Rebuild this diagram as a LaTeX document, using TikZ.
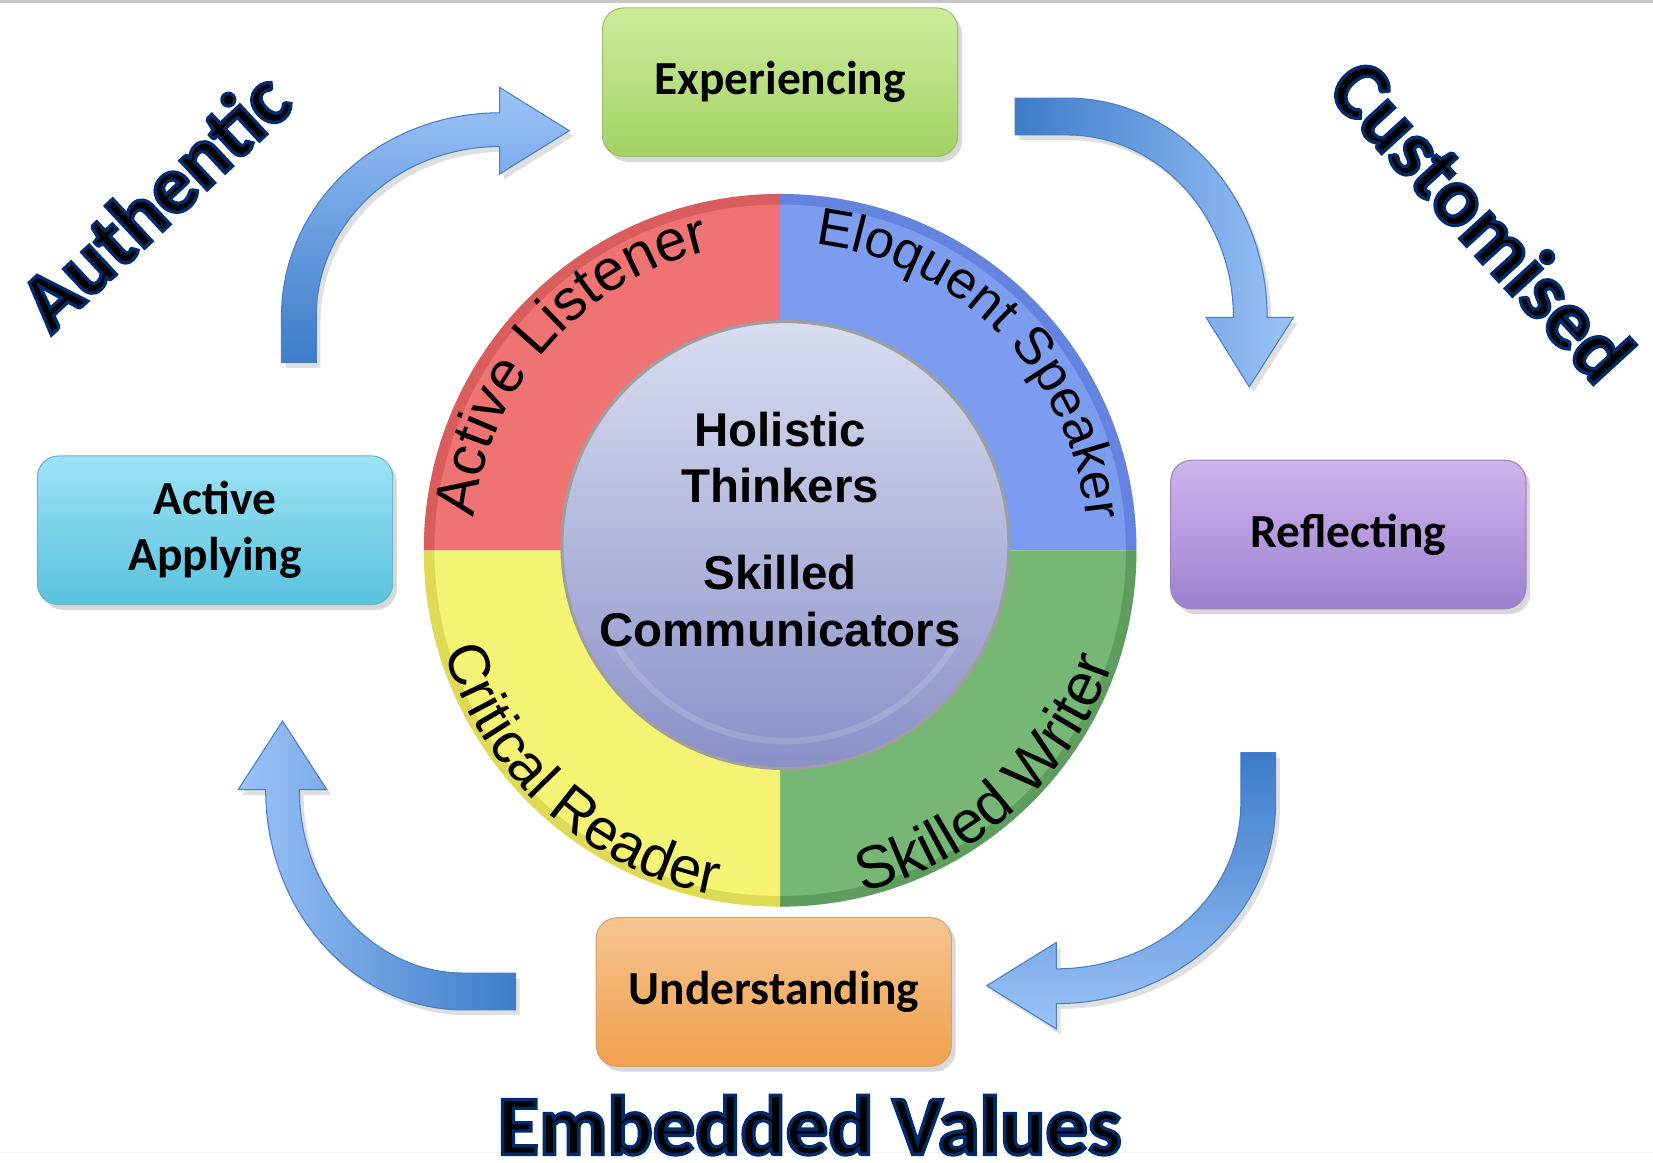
\documentclass[tikz,border=0pt]{standalone}
\usepackage{fontspec}
\usetikzlibrary{shadows,decorations.text}
\newfontfamily\calfam{Carlito}
\newfontfamily\wordart{Carlito}[BoldFeatures={FakeBold=4}]
\newfontfamily\arialf{Liberation Sans}
\newcommand\navystroke{\special{pdf:literal direct 0 0.17 0.43 RG}}
\definecolor{arrD}{HTML}{3D7CC9}
\definecolor{arrL}{HTML}{9BC3F8}
\definecolor{arrE}{HTML}{4A7EC2}
\definecolor{redF}{HTML}{F07373}
\definecolor{redD}{HTML}{C94C4C}
\definecolor{bluF}{HTML}{7C9CF0}
\definecolor{bluD}{HTML}{5270D2}
\definecolor{yelF}{HTML}{F4F374}
\definecolor{yelD}{HTML}{CFC63E}
\definecolor{grnF}{HTML}{76B776}
\definecolor{grnD}{HTML}{4A894A}
\definecolor{expT}{HTML}{CDEC9B}
\definecolor{expB}{HTML}{A2D264}
\definecolor{expE}{HTML}{9CC070}
\definecolor{appT}{HTML}{9CE3F3}
\definecolor{appB}{HTML}{5AC2DF}
\definecolor{appE}{HTML}{6AB4CC}
\definecolor{refT}{HTML}{CFB5EE}
\definecolor{refB}{HTML}{9C80CF}
\definecolor{refE}{HTML}{9A86BC}
\definecolor{undT}{HTML}{F6C592}
\definecolor{undB}{HTML}{F0A04C}
\definecolor{undE}{HTML}{D9A070}
\definecolor{innT}{HTML}{D9DDF0}
\definecolor{innM}{HTML}{DDE2F8}
\definecolor{innB}{HTML}{8A90C8}
\tikzset{
  stage/.style={rounded corners=20pt, minimum width=337pt, minimum height=141pt,
    inner sep=0pt, align=center, line width=1pt,
    font=\calfam\bfseries\fontsize{45}{53}\selectfont,
    drop shadow={opacity=0.3, shadow xshift=4pt, shadow yshift=-5pt}},
  blockarrow/.style={draw=arrE, line width=1pt,
    drop shadow={opacity=0.25, shadow xshift=4pt, shadow yshift=-5pt}},
  art/.style={inner sep=0pt, text=black,
    font=\wordart\bfseries\fontsize{#1}{#1}\selectfont},
  centre/.style={inner sep=0pt, align=center,
    font=\arialf\bfseries\fontsize{45}{54}\selectfont},
  rim/.style={line width=10pt, opacity=0.55}
}
\begin{document}
\begin{tikzpicture}[x=1pt,y=-1pt]
\useasboundingbox (0,0) rectangle (1568,1103);
\fill[white] (0,0) rectangle (1568,1103);
\fill[gray!45] (0,0) rectangle (1568,3);
\draw[gray!12] (0,1093) -- (1568,1093);

% curved block arrows
\draw[blockarrow, bottom color=arrD, top color=arrL]
  (267,344) -- (267,300) arc[start angle=180, end angle=270, x radius=207, y radius=193]
  -- (474,83) -- (540,124) -- (474,165) -- (474,139)
  arc[start angle=270, end angle=180, x radius=174, y radius=161] -- (300,344) -- cycle;
\draw[blockarrow, left color=arrD, right color=arrL]
  (963,93) -- (1012,93) arc[start angle=270, end angle=360, x radius=190, y radius=208]
  -- (1227,301) -- (1185,367) -- (1144,301) -- (1170,301)
  arc[start angle=0, end angle=-90, x radius=158, y radius=173] -- (963,128) -- cycle;
\draw[blockarrow, top color=arrD, bottom color=arrL]
  (1210,714) -- (1210,762) arc[start angle=0, end angle=90, x radius=208, y radius=190]
  -- (1002,976) -- (936,935) -- (1002,894) -- (1002,919)
  arc[start angle=90, end angle=0, x radius=175, y radius=157] -- (1177,714) -- cycle;
\draw[blockarrow, right color=arrD, left color=arrL]
  (489,958) -- (440,958) arc[start angle=90, end angle=180, x radius=188, y radius=209]
  -- (226,749) -- (268,684) -- (310,749) -- (284,749)
  arc[start angle=180, end angle=90, x radius=156, y radius=174] -- (489,923) -- cycle;

% ring
\begin{scope}[shift={(740,522)}, y=1pt]
  \fill[redF] (0,0) -- (180:338) arc[start angle=180, end angle=90, radius=338] -- cycle;
  \fill[bluF] (0,0) -- (90:338) arc[start angle=90, end angle=0, radius=338] -- cycle;
  \fill[grnF] (0,0) -- (0:338) arc[start angle=0, end angle=-90, radius=338] -- cycle;
  \fill[yelF] (0,0) -- (270:338) arc[start angle=270, end angle=180, radius=338] -- cycle;
  \draw[rim, redD] (180:333) arc[start angle=180, end angle=90, radius=333];
  \draw[rim, bluD] (90:333) arc[start angle=90, end angle=0, radius=333];
  \draw[rim, grnD] (0:333) arc[start angle=0, end angle=-90, radius=333];
  \draw[rim, yelD] (270:333) arc[start angle=270, end angle=180, radius=333];
  \shade[top color=innT, middle color=innM, bottom color=innB, draw=gray!75, line width=3pt]
    (5,5) circle[radius=212];
  \draw[white, opacity=0.14, line width=6pt] ([shift={(5,5)}]210:186) arc[start angle=210, end angle=330, radius=186];
  \path[decorate, decoration={text along path, text align=center,
      text={|\arialf\fontsize{55}{55}\selectfont|Active Listener}}]
    (188.5:292) arc[start angle=188.5, end angle=88.5, radius=292];
  \path[decorate, decoration={text along path, text align=center,
      text={|\arialf\fontsize{50}{50}\selectfont|Eloquent Speaker}}]
    (94.5:292) arc[start angle=94.5, end angle=-5.5, radius=292];
  \path[decorate, decoration={text along path, text align=center,
      text={|\arialf\fontsize{55}{55}\selectfont|Critical Reader}}]
    (178:333) arc[start angle=178, end angle=278, radius=333];
  \path[decorate, decoration={text along path, text align=center,
      text={|\arialf\fontsize{57}{57}\selectfont|Skilled Writer}}]
    (262.5:333) arc[start angle=262.5, end angle=362.5, radius=333];
\end{scope}
\node[centre] (holistic) at (740,434) {Holistic\\Thinkers};
\node[centre] (skilled) at (740,570) {Skilled\\Communicators};

% stage boxes
\node[stage, top color=expT, bottom color=expB, draw=expE] (exp) at (740,78) {Experiencing};
\node[stage, top color=refT, bottom color=refB, draw=refE] (ref) at (1279,507) {Reflecting};
\node[stage, top color=undT, bottom color=undB, draw=undE] (und) at (734,941) {Understanding};
\node[stage, top color=appT, bottom color=appB, draw=appE] (app) at (204,503) {Active\\Applying};

% word art labels
\node[art=78, rotate=43] (authentic) at (146,190) {\navystroke Authentic};
\node[art=79, rotate=-47.5] (customised) at (1406,209) {\navystroke Customised};
\node[art=80, anchor=base] (values) at (768,1095) {\navystroke Embedded Values};
\end{tikzpicture}
\end{document}
